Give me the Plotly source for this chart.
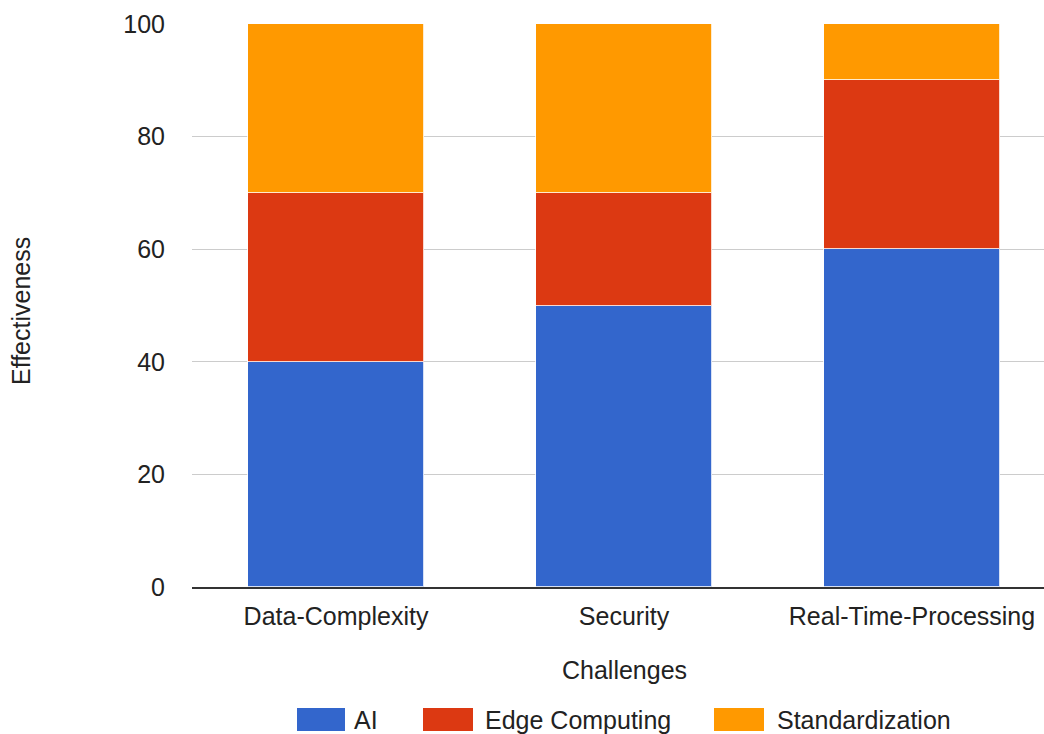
import plotly.graph_objects as go

categories = ["Data-Complexity", "Security", "Real-Time-Processing"]
series_names = ["AI", "Edge Computing", "Standardization"]
ai_values = [40, 50, 60]
edge_values = [30, 20, 30]
std_values = [30, 30, 10]
y_ticks = [0, 20, 40, 60, 80, 100]
colors = ["#3366CC", "#DC3912", "#FF9900"]

W, H = 1044, 734
L, R, T, B = 192, 0, 24, 147
PW, PH = W - L - R, H - T - B
FONT = "Liberation Sans, Arial, sans-serif"
FS = 25
TXT = "#222222"


def px_x(p):
    return (p - L) / PW


def px_y(p):
    return (H - B - p) / PH


fig = go.Figure()
for name, vals, col in zip(series_names, [ai_values, edge_values, std_values], colors):
    fig.add_trace(go.Bar(
        x=list(range(len(categories))), y=vals, name=name,
        marker=dict(color=col, line=dict(color="rgba(255,255,255,0.8)", width=1)),
        width=0.611, showlegend=False,
    ))

# custom legend (Google-style wide swatches)
legend_items = [(297, 345, 352), (423, 473, 483), (714, 764, 775)]
shapes = []
annotations = []
for (x0, x1, tx), name, col in zip(legend_items, series_names, colors):
    shapes.append(dict(type="rect", xref="paper", yref="paper",
                       x0=px_x(x0), x1=px_x(x1), y0=px_y(731), y1=px_y(708),
                       fillcolor=col, line=dict(width=0)))
    annotations.append(dict(text=name, xref="paper", yref="paper",
                            x=px_x(tx), y=px_y(720), xanchor="left", yanchor="middle",
                            showarrow=False, font=dict(family=FONT, size=FS, color=TXT)))

annotations.append(dict(text="Challenges", xref="x", yref="paper", x=1, y=px_y(670),
                        xanchor="center", yanchor="middle", showarrow=False,
                        font=dict(family=FONT, size=FS, color=TXT)))
annotations.append(dict(text="Effectiveness", xref="paper", yref="paper", x=px_x(21), y=px_y(311),
                        xanchor="center", yanchor="middle", textangle=-90, showarrow=False,
                        font=dict(family=FONT, size=FS, color=TXT)))

fig.update_layout(
    width=W, height=H, barmode="stack",
    margin=dict(l=L, r=R, t=T, b=B, autoexpand=False),
    paper_bgcolor="white", plot_bgcolor="white",
    font=dict(family=FONT, size=FS, color=TXT),
    shapes=shapes, annotations=annotations,
    bargap=0,
)
fig.update_xaxes(
    tickvals=list(range(len(categories))), ticktext=categories,
    range=[-0.5, -0.5 + PW / 288.0],
    showgrid=False, zeroline=False, showline=True, linecolor="#333333", linewidth=2,
    ticks="", ticklabelstandoff=6,
    tickfont=dict(family=FONT, size=FS, color=TXT),
)
fig.update_yaxes(
    range=[0, 100], tickvals=y_ticks,
    showgrid=True, gridcolor="#cccccc", gridwidth=1, zeroline=False, showline=False,
    ticks="", ticklabelstandoff=26,
    tickfont=dict(family=FONT, size=FS, color=TXT),
)

fig.write_html("out.html")
